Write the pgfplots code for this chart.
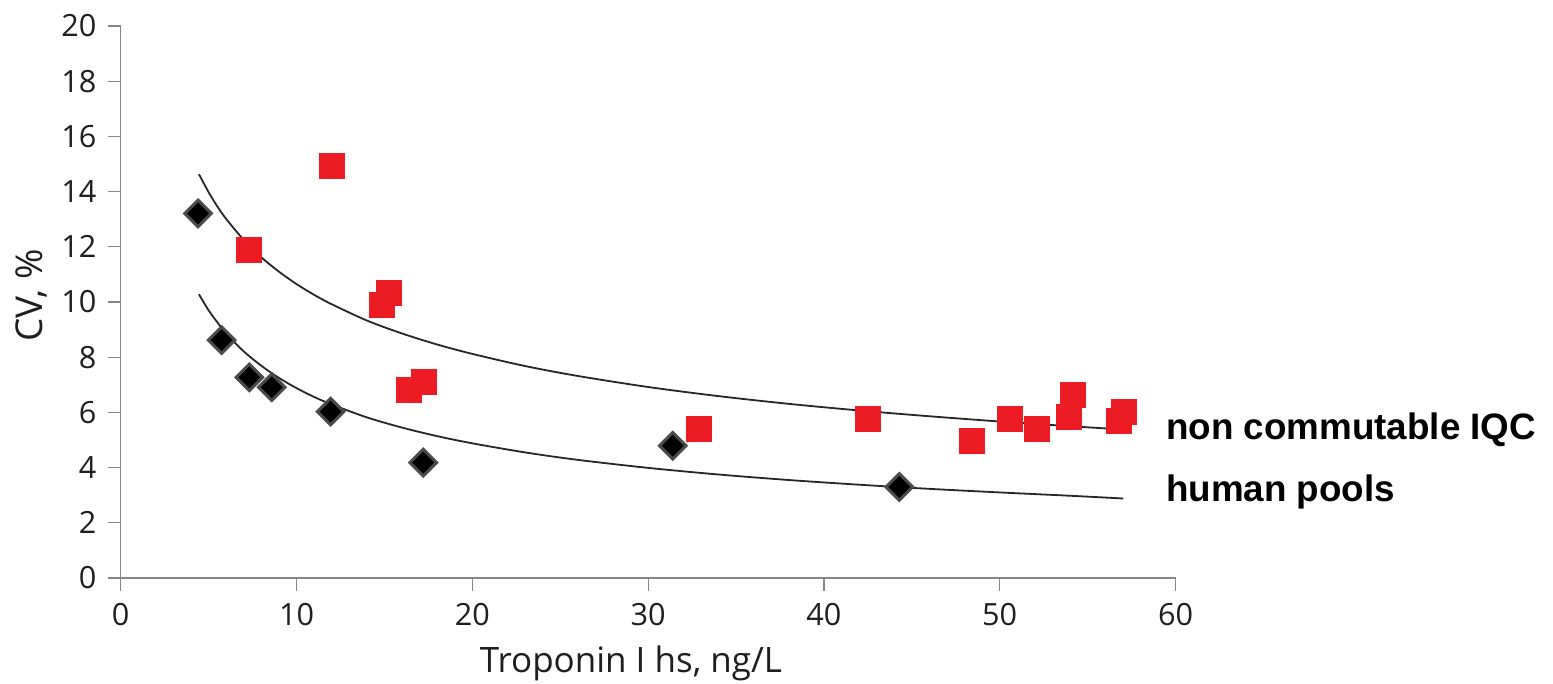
\documentclass[border=0pt]{standalone}
\usepackage{fontspec}
\setmainfont{Open Sans}
\newfontfamily\arialfont{Liberation Sans}
\usepackage{pgfplots}
\pgfplotsset{compat=1.18}
\definecolor{axgray}{RGB}{134,134,134}
\definecolor{txt}{RGB}{30,30,30}
\definecolor{sqred}{RGB}{237,28,36}
\definecolor{dmedge}{RGB}{75,75,75}
\begin{document}
\begin{tikzpicture}
\path[use as bounding box] (-60.35pt,-53pt) rectangle (716.15pt,289pt);
\begin{axis}[
  at={(0,0)}, anchor=south west,
  width=527.4pt, height=276pt, scale only axis,
  xmin=0, xmax=60, ymin=0, ymax=20,
  axis lines=left,
  axis line style={-, draw=axgray, line width=0.75pt},
  xtick={0,10,...,60}, ytick={0,2,...,20},
  tick align=outside,
  major tick length=6.4pt,
  tick style={draw=axgray, line width=0.6pt},
  minor tick num=0,
  /pgf/number format/assume math mode=true,
  ticklabel style={font=\fontsize{15.3}{18}\selectfont, text=txt, inner sep=0pt},
  xticklabel style={anchor=base, yshift=-17.1pt},
  yticklabel style={anchor=east, xshift=-5.6pt},
  xlabel={Troponin I hs, ng/L},
  xlabel style={at={(axis description cs:0.4838,0)}, anchor=base, yshift=-47.5pt, font=\fontsize{17.5}{21}\selectfont, text=txt, inner sep=0pt},
  ylabel={CV, \%},
  ylabel style={at={(axis description cs:-0.0739,0.5118)}, anchor=base, font=\fontsize{18.5}{22}\selectfont, text=txt, inner sep=0pt},
  clip=false,
]
% non commutable IQC
\addplot[only marks, mark=square*, mark size=6.3pt, mark options={fill=sqred, draw=sqred, line width=0pt}] coordinates {
 (12.04,14.93) (7.28,11.88) (14.85,9.89) (15.24,10.34) (16.38,6.81) (17.27,7.09)
 (32.90,5.40) (42.53,5.76) (48.44,4.96) (50.57,5.76) (52.12,5.39)
 (53.96,5.82) (54.19,6.63) (56.79,5.70) (57.09,6.01)
};
% human pools
\addplot[only marks, mark=square*, mark size=4.7pt, mark options={rotate=45, fill=black, draw=dmedge, line width=1.5pt}] coordinates {
 (4.40,13.21) (5.74,8.62) (7.32,7.27) (8.59,6.91) (11.94,6.03) (17.21,4.18)
 (31.40,4.79) (44.29,3.30)
};
% trend line, non commutable IQC
\addplot[no marks, smooth, black!85, line width=0.9pt] coordinates {
 (4.45,14.63) (5,13.98) (5.5,13.46) (6,13.01) (7,12.25) (8,11.62) (9,11.10)
 (10,10.65) (11,10.26) (12,9.92) (14,9.33) (16,8.86) (18,8.46) (20,8.12)
 (23,7.68) (26,7.32) (30,6.92) (34,6.59) (38,6.31) (42,6.07) (46,5.86)
 (50,5.67) (54,5.50) (57.03,5.38)
};
% trend line, human pools
\addplot[no marks, smooth, black!85, line width=0.9pt] coordinates {
 (4.45,10.28) (5,9.70) (5.5,9.26) (6,8.86) (7,8.21) (8,7.69) (9,7.25)
 (10,6.88) (11,6.56) (12,6.29) (14,5.82) (16,5.45) (18,5.14) (20,4.88)
 (23,4.55) (26,4.28) (30,3.99) (34,3.75) (38,3.55) (42,3.38) (46,3.23)
 (50,3.10) (54,2.98) (57.03,2.88)
};
\end{axis}
\node[anchor=base west, inner sep=0pt, font=\arialfont\bfseries\fontsize{18.4}{22}\selectfont] at (522.5pt,69pt) {non commutable IQC};
\node[anchor=base west, inner sep=0pt, font=\arialfont\bfseries\fontsize{18.4}{22}\selectfont] at (522.5pt,38.15pt) {human pools};
\end{tikzpicture}
\end{document}
